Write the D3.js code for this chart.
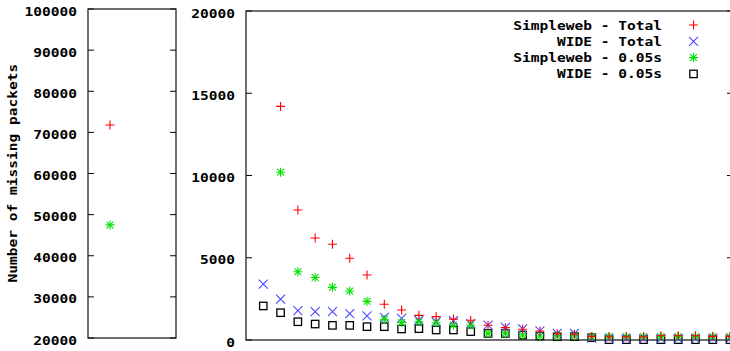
<!DOCTYPE html>
<html lang="en">
<head>
<meta charset="utf-8">
<script src="https://d3js.org/d3.v7.min.js"></script>
<style>
  body { margin: 0; background: #fff; }
  svg text { font-family: "DejaVu Sans Mono", "Liberation Mono", monospace; font-weight: bold; font-size: 12px; fill: #000; }
</style>
</head>
<body>
<script>
// left panel: aggregate values
var leftSimplewebTotal = 71800;
var leftSimpleweb005 = 47500;
var leftTicks = [20000, 30000, 40000, 50000, 60000, 70000, 80000, 90000, 100000];

// right panel: per-bin values (index 0..27), null = no point
var simplewebTotal = [null, 14200, 7900, 6200, 5820, 4970, 3950, 2170, 1820, 1500, 1420, 1270, 1200,
  900, 750, 650, 550, 380, 350, 220, 200, 200, 200, 260, 260, 260, 220, 220];
var wideTotal = [3400, 2490, 1780, 1720, 1720, 1600, 1460, 1380, 1320, 1200, 1110, 1170, 1000,
  910, 770, 670, 550, 400, 400, 110, 90, 90, 90, 90, 90, 90, 90, 90];
var simpleweb005 = [null, 10200, 4150, 3800, 3200, 2980, 2350, 1260, 1070, 1110, 1050, 910, 910,
  400, 400, 300, 240, 240, 240, 200, 210, 210, 210, 210, 210, 210, 210, 210];
var wide005 = [2070, 1660, 1110, 970, 890, 890, 810, 810, 670, 690, 610, 610, 510,
  400, 400, 300, 240, 200, 210, 140, 20, 20, 20, 20, 20, 20, 20, 20];
var rightTicks = [0, 5000, 10000, 15000, 20000];

var seriesNames = ["Simpleweb - Total", "WIDE - Total", "Simpleweb - 0.05s", "WIDE - 0.05s"];
var seriesColors = ["#ff0000", "#4848ff", "#00e000", "#000000"];
var seriesShapes = ["plus", "cross", "star", "square"];

var W = 730, H = 351;
var svg = d3.select("body").append("svg").attr("width", W).attr("height", H);

function label(sel, str) {
  // gnuplot bitmap-ish font is wide: ~8.75px per char
  sel.text(str).attr("textLength", str.length * 8.75).attr("lengthAdjust", "spacingAndGlyphs");
}

function marker(g, shape, color, cx, cy) {
  var s = 4.5;
  var p = g.append("g").attr("transform", "translate(" + cx + "," + cy + ")")
    .attr("stroke", color).attr("stroke-width", 1.1).attr("fill", "none");
  if (shape === "plus" || shape === "star") {
    p.append("path").attr("d", "M" + (-s) + ",0H" + s + "M0," + (-s) + "V" + s);
  }
  if (shape === "cross" || shape === "star") {
    var c = shape === "star" ? s * 0.75 : s;
    p.append("path").attr("d", "M" + (-c) + "," + (-c) + "L" + c + "," + c + "M" + (-c) + "," + c + "L" + c + "," + (-c));
  }
  if (shape === "square") {
    p.append("rect").attr("x", -3.7).attr("y", -3.7).attr("width", 7.4).attr("height", 7.4).attr("stroke-width", 1.3);
  }
}

function panel(x0, x1, y0, y1, yDomain, ticks) {
  var g = svg.append("g");
  var y = d3.scaleLinear().domain(yDomain).range([y1, y0]);
  ticks.forEach(function(t) {
    g.append("line").attr("x1", x0).attr("x2", x0 + 6).attr("y1", y(t)).attr("y2", y(t)).attr("stroke", "#000");
    g.append("line").attr("x1", x1 - 6).attr("x2", x1).attr("y1", y(t)).attr("y2", y(t)).attr("stroke", "#000");
    label(g.append("text").attr("x", x0 - 11).attr("y", y(t) + 6.5).attr("text-anchor", "end"), String(t));
  });
  g.append("rect").attr("x", x0).attr("y", y0).attr("width", x1 - x0).attr("height", y1 - y0)
    .attr("fill", "none").attr("stroke", "#111").attr("stroke-width", 1.2);
  return y;
}

// left panel
var xl = d3.scaleLinear().domain([0, 4]).range([88, 176]);
var yl = panel(88, 176, 9, 338, [20000, 100000], leftTicks);
marker(svg, "plus", seriesColors[0], xl(1), yl(leftSimplewebTotal));
marker(svg, "star", seriesColors[2], xl(1), yl(leftSimpleweb005));

// right panel
var xr = d3.scaleLinear().domain([-1, 27.17]).range([246, 733]);
var yr = panel(246, 733, 11, 340, [0, 20000], rightTicks);

var allSeries = [simplewebTotal, wideTotal, simpleweb005, wide005];
var drawOrder = [3, 1, 2, 0];
drawOrder.forEach(function(k) {
  allSeries[k].forEach(function(v, i) {
    if (v === null) return;
    marker(svg, seriesShapes[k], seriesColors[k], xr(i), yr(v));
  });
});

// y label
label(svg.append("text").attr("transform", "translate(17,173) rotate(-90)").attr("text-anchor", "middle"),
  "Number of missing packets");

// legend
seriesNames.forEach(function(n, k) {
  var ly = 25 + k * 16.3;
  label(svg.append("text").attr("x", 662).attr("y", ly + 4.5).attr("text-anchor", "end"), n);
  marker(svg, seriesShapes[k], seriesColors[k], 693.5, ly);
});
</script>
</body>
</html>
